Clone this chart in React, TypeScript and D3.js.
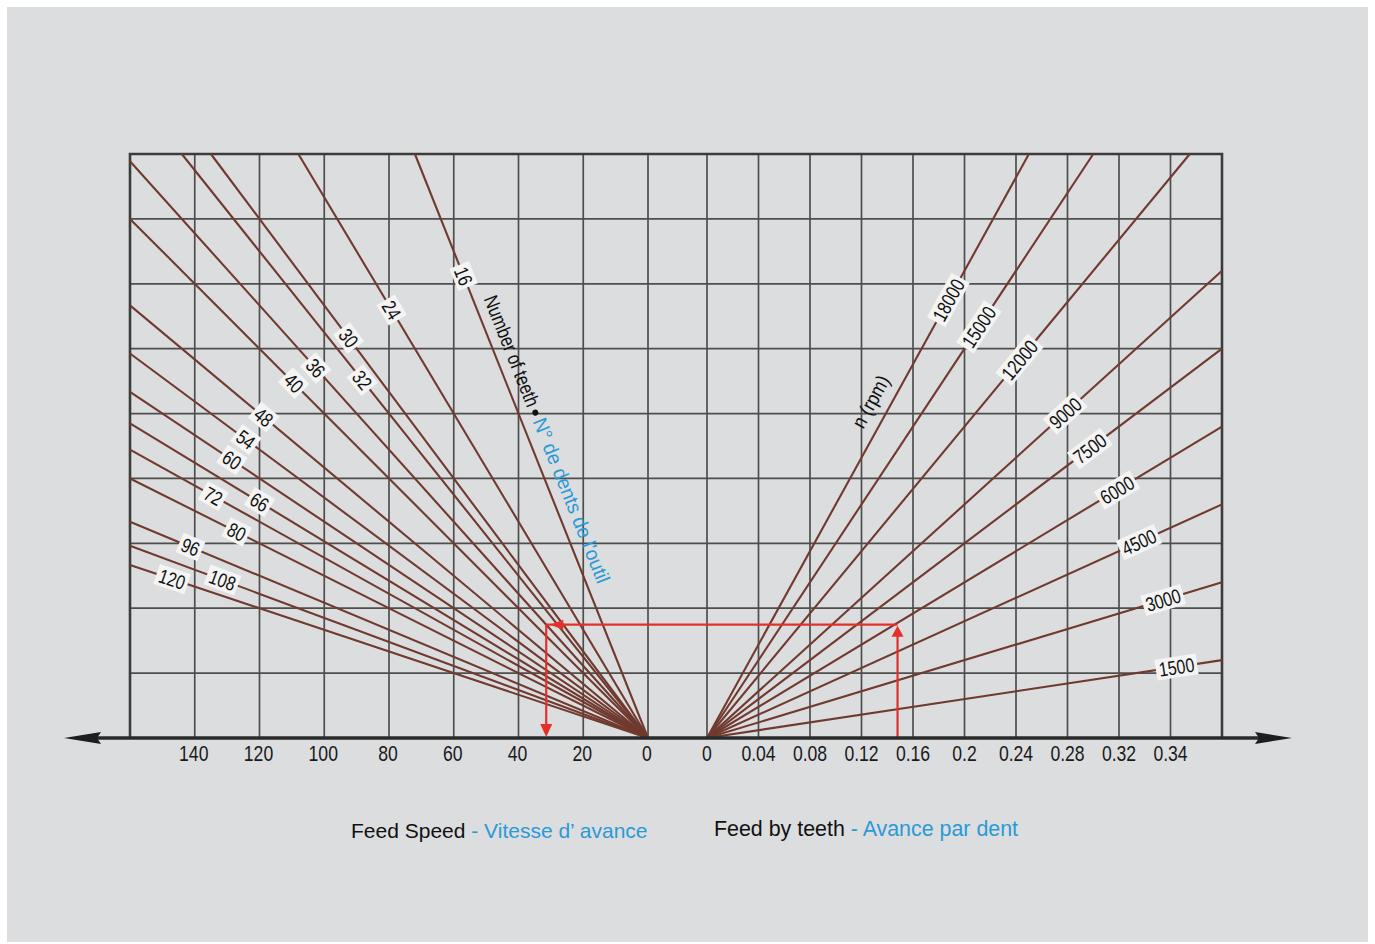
import React from "react";
import * as d3 from "d3";

// ---- data ----
const teeth = [16, 24, 30, 32, 36, 40, 48, 54, 60, 66, 72, 80, 96, 108, 120];
// table feed (mm/min) where each teeth label sits on its ray
const teethLabelFeed = [3560, 3298, 3082, 2758, 2851, 2735, 2473, 2300, 2142, 1818, 1865, 1588, 1472, 1217, 1225];
const rpms = [1500, 3000, 4500, 6000, 7500, 9000, 12000, 15000, 18000];
const rpmLabelFeed = [547, 1063, 1510, 1911, 2230, 2504, 2913, 3167, 3375];

const feedSpeedGrid = [0, 20, 40, 60, 80, 100, 120, 140, 160];
const feedSpeedTicks = [0, 20, 40, 60, 80, 100, 120, 140];
const feedToothGrid = [0, 0.04, 0.08, 0.12, 0.16, 0.2, 0.24, 0.28, 0.32, 0.36, 0.4];
const feedToothTicks = [0, 0.04, 0.08, 0.12, 0.16, 0.2, 0.24, 0.28, 0.32, 0.36];
const feedToothTickLabels = ["0", "0.04", "0.08", "0.12", "0.16", "0.2", "0.24", "0.28", "0.32", "0.34"];
const tableFeedGrid = [0, 500, 1000, 1500, 2000, 2500, 3000, 3500, 4000, 4500];

// worked example (red arrows)
const exampleFz = 0.148;
const exampleRpm = 5900;
const exampleTeeth = 36;

const SANS = "'Liberation Sans', Arial, Helvetica, sans-serif";
const SQ = 0.8; // horizontal squeeze to mimic a condensed face
const BLUE = "#2a9ad6";
const RAY = "#703a2f";
const GRID = "#4e4e4e";
const RED = "#e3302a";

function BoxLabel({ x, y, angle, text, fs }: { x: number; y: number; angle: number; text: string; fs: number }) {
  const w = text.length * fs * 0.556 * SQ + 6;
  const h = fs + 1;
  return (
    <g transform={`translate(${x},${y}) rotate(${angle})`}>
      <rect x={-w / 2} y={-h / 2} width={w} height={h} fill="#f4f4f4" />
      <text
        transform={`scale(${SQ},1)`}
        textAnchor="middle"
        dy="0.36em"
        fontSize={fs}
        fontFamily={SANS}
        fill="#111"
      >
        {text}
      </text>
    </g>
  );
}

export default function App() {
  const W = 1375;
  const H = 944;
  const top = 154;
  const base = 738;
  const yS = d3.scaleLinear().domain([0, 4500]).range([base, top]);
  const xL = d3.scaleLinear().domain([0, 160]).range([648, 130]);
  const xR = d3.scaleLinear().domain([0, 0.4]).range([707, 1222]);
  const deg = 180 / Math.PI;

  const maxY = 4500;
  const leftRays = teeth.map((z, i) => {
    const fTop = (maxY * z) / 1000;
    const end = fTop <= 160 ? { f: fTop, yv: maxY } : { f: 160, yv: (160 * 1000) / z };
    const x1 = xL(end.f);
    const y1 = yS(end.yv);
    const x0 = xL(0);
    const y0 = yS(0);
    const ang = Math.atan2(y0 - y1, x0 - x1) * deg;
    const ly = teethLabelFeed[i];
    return { z, x0, y0, x1, y1, ang, lx: xL((ly * z) / 1000), ly: yS(ly) };
  });

  const rightRays = rpms.map((n, i) => {
    const fzTop = maxY / n;
    const end = fzTop <= 0.4 ? { fz: fzTop, yv: maxY } : { fz: 0.4, yv: 0.4 * n };
    const x1 = xR(end.fz);
    const y1 = yS(end.yv);
    const x0 = xR(0);
    const y0 = yS(0);
    const ang = Math.atan2(y1 - y0, x1 - x0) * deg;
    const ly = rpmLabelFeed[i];
    return { n, x0, y0, x1, y1, ang, lx: xR(ly / n), ly: yS(ly) };
  });

  const r16 = leftRays[0];
  const r18 = rightRays[rightRays.length - 1];
  const ntStartFeed = 3356;
  const rpmTextFeed = 2330;

  // example
  const exY = yS(exampleFz * exampleRpm);
  const exXR = xR(exampleFz);
  const exXL = xL((exampleFz * exampleRpm * exampleTeeth) / 1000);

  const lineGen = d3.line();

  return (
    <svg width={W} height={H} style={{ position: "absolute", left: 0, top: 0, display: "block" }}>
      <rect x={0} y={0} width={W} height={H} fill="#ffffff" />
      <rect x={7} y={7} width={1361} height={935} fill="#dcdddf" />

      {/* grid */}
      <g stroke={GRID} strokeWidth={1.7}>
        {tableFeedGrid.map((v) => (
          <line key={"h" + v} x1={xL(160)} x2={xR(0.4)} y1={yS(v)} y2={yS(v)} />
        ))}
        {feedSpeedGrid.map((v) => (
          <line key={"vl" + v} x1={xL(v)} x2={xL(v)} y1={top} y2={base} />
        ))}
        {feedToothGrid.map((v) => (
          <line key={"vr" + v} x1={xR(v)} x2={xR(v)} y1={top} y2={base} />
        ))}
      </g>
      {/* frame */}
      <path
        d={`M${xL(160)},${base} L${xL(160)},${top} L${xR(0.4)},${top} L${xR(0.4)},${base}`}
        fill="none"
        stroke="#3c3c3c"
        strokeWidth={2.6}
      />

      {/* rays */}
      <g stroke={RAY} strokeWidth={2.1} fill="none">
        {leftRays.map((r) => (
          <path key={"l" + r.z} d={lineGen([[r.x0, r.y0], [r.x1, r.y1]]) as string} />
        ))}
        {rightRays.map((r) => (
          <path key={"r" + r.n} d={lineGen([[r.x0, r.y0], [r.x1, r.y1]]) as string} />
        ))}
      </g>

      {/* red example arrows */}
      <g stroke={RED} strokeWidth={2.2} fill="none">
        <line x1={exXR} x2={exXR} y1={base} y2={exY + 4} />
        <line x1={exXR} x2={exXL} y1={exY} y2={exY} />
        <line x1={exXL} x2={exXL} y1={exY} y2={base - 8} />
      </g>
      <g fill={RED}>
        <path d={`M${exXR},${exY + 1} L${exXR - 6},${exY + 12} L${exXR + 6},${exY + 12} Z`} />
        <path d={`M${exXL + 4},${exY} L${exXL + 17},${exY - 5} L${exXL + 17},${exY + 5} Z`} />
        <path d={`M${exXL},${base - 1} L${exXL - 6},${base - 14} L${exXL + 6},${base - 14} Z`} />
      </g>

      {/* labels on rays */}
      {leftRays.map((r) => (
        <BoxLabel key={"lb" + r.z} x={r.lx} y={r.ly} angle={r.ang} text={String(r.z)} fs={20} />
      ))}
      {rightRays.map((r) => (
        <BoxLabel key={"rb" + r.n} x={r.lx} y={r.ly} angle={r.ang} text={String(r.n)} fs={20} />
      ))}

      {/* Number of teeth title along 16 ray */}
      <g
        transform={`translate(${xL((ntStartFeed * 16) / 1000)},${yS(ntStartFeed)}) rotate(${r16.ang})`}
        fontFamily={SANS}
        fontSize={20}
      >
        <text x={0} y={-10} fill="#111" textLength={118} lengthAdjust="spacingAndGlyphs">
          Number of teeth
        </text>
        <circle cx={125} cy={-16} r={3} fill="#111" />
        <text x={132} y={-10} fill={BLUE} textLength={176} lengthAdjust="spacingAndGlyphs">
          N° de dents de l'outil
        </text>
      </g>

      {/* n (rpm) along 18000 ray */}
      <g transform={`translate(${xR(rpmTextFeed / 18000)},${yS(rpmTextFeed)}) rotate(${r18.ang})`}>
        <text transform="scale(0.88,1)" x={0} y={-12} fontSize={20} fontFamily={SANS} fill="#111">
          n (rpm)
        </text>
      </g>

      {/* axis */}
      <line x1={90} x2={1262} y1={base} y2={base} stroke="#2a2a2a" strokeWidth={3.5} />
      <path d={`M64,${base} L101,${base - 6} L97,${base} L101,${base + 6} Z`} fill="#1e1e1e" />
      <path d={`M1292,${base} L1255,${base - 6} L1259,${base} L1255,${base + 6} Z`} fill="#1e1e1e" />

      {/* tick labels */}
      <g fontFamily={SANS} fontSize={22} fill="#1a1a1a" textAnchor="middle">
        {feedSpeedTicks.map((v) => (
          <text key={"tl" + v} transform={`translate(${xL(v) - 1},761) scale(${SQ},1)`}>
            {v}
          </text>
        ))}
        {feedToothTicks.map((v, i) => (
          <text key={"tr" + v} transform={`translate(${xR(v)},761) scale(${SQ},1)`}>
            {feedToothTickLabels[i]}
          </text>
        ))}
      </g>

      {/* legend */}
      <text x={351} y={838} fontFamily={SANS} fontSize={21} fill="#111">
        Feed Speed<tspan fill={BLUE}> - Vitesse d’ avance</tspan>
      </text>
      <text x={714} y={836} fontFamily={SANS} fontSize={21.4} fill="#111">
        Feed by teeth<tspan fill={BLUE}> - Avance par dent</tspan>
      </text>
    </svg>
  );
}
